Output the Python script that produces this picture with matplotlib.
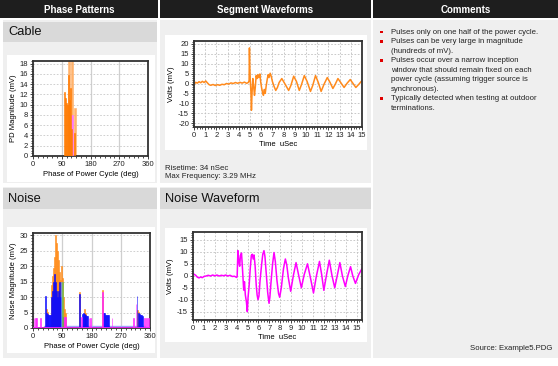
import matplotlib
matplotlib.use('Agg')
import matplotlib.pyplot as plt
from matplotlib.patches import Rectangle
from matplotlib.ticker import MultipleLocator

plt.rcParams['font.family'] = ['Liberation Sans', 'DejaVu Sans']
plt.rcParams['axes.unicode_minus'] = False

W, H = 558, 366

# column headers
headers = ['Phase Patterns', 'Segment Waveforms', 'Comments']

# Cable - phase pattern bars (phase deg, magnitude mV)
cable_light_phase = [113, 122, 131]
cable_light_mag = [18.5, 18.5, 9.3]
cable_pink_phase = [123]
cable_pink_mag = [8.0]
cable_dark_phase = [100, 103, 106, 109, 112, 115, 118, 121, 129]
cable_dark_mag = [12.5, 11.3, 10.3, 10.0, 15.7, 11.0, 13.3, 5.2, 4.5]

# Cable - segment waveform (uSec, mV)
seg_t = [0.0, 0.15, 0.3, 0.45, 0.6, 0.75, 0.9, 1.05, 1.2, 1.35, 1.5, 1.7, 1.9, 2.1,
         2.3, 2.5, 2.7, 2.9, 3.1, 3.3, 3.5, 3.7, 3.9, 4.1, 4.3, 4.5, 4.7, 4.85, 4.92,
         4.95, 4.98, 5.02, 5.08, 5.13, 5.18, 5.25, 5.32, 5.40, 5.47, 5.55, 5.62, 5.70,
         5.78, 5.88, 5.95, 6.03, 6.12, 6.2, 6.28, 6.36, 6.45, 6.55, 6.63, 6.7, 6.8,
         6.9, 7.0, 7.15, 7.3, 7.45, 7.6, 7.84, 8.1, 8.45, 8.65, 8.9, 9.15, 9.4, 9.6,
         9.85, 10.1, 10.4, 10.6, 10.85, 11.1, 11.35, 11.6, 11.9, 12.15, 12.4, 12.6,
         12.85, 13.1, 13.4, 13.65, 13.95, 14.2, 14.45, 14.7, 15.0]
seg_v = [-0.5, 0.6, 0.2, 0.9, 0.4, 1.1, 0.5, 1.3, 0.3, -0.6, -0.9, -0.5, -1.0, -0.6,
         -0.9, -0.4, -0.6, 0.0, -0.3, 0.3, 0.0, 0.5, 0.1, 0.6, 0.2, 0.7, 0.1, 0.5, 1.5,
         18.0, 9.0, 2.0, -4.0, -13.5, -5.0, 2.5, -1.0, -6.0, -2.0, 4.0, 2.5, 4.5,
         3.0, 4.8, 1.0, -2.0, -4.5, -6.0, -3.0, -5.0, -1.0, 2.5, 4.5, 3.0, 5.2,
         3.5, 1.0, -1.5, -3.5, -2.0, 0.5, 2.5, 0.0, -3.5, -1.0, 3.7, 1.0, -3.5, -0.5,
         4.0, 1.0, -4.0, -1.0, 4.0, 0.5, -4.0, -0.5, 3.0, 0.5, -2.5, -0.5,
         2.5, 0.5, -2.0, 0.0, 2.0, 0.0, -2.0, -0.5, 1.5]

# Noise - phase pattern bars
noise_orange_phase = [42, 45, 57, 60, 63, 66, 69, 72, 75, 78, 81, 84, 87, 90, 93, 96, 99,
                      144, 158, 161, 214, 323, 326]
noise_orange_mag = [6.3, 5.2, 14.0, 16.7, 19.5, 23, 30, 27.6, 25, 22, 18, 15.6, 20, 16, 10, 6, 4.8,
                    11.7, 6.3, 5.0, 12.3, 5.8, 5.3]
noise_blue_phase = [38, 42, 45, 48, 51, 54, 57, 60, 63, 66, 69, 72, 75, 78, 81, 84, 87, 90,
                    142, 151, 154, 157, 160, 163, 166, 169,
                    216, 219, 222, 225, 228, 231,
                    320, 326, 329, 332, 335, 338]
noise_blue_mag = [10.5, 5.0, 4.5, 4.3, 4.3, 4.3, 10.0, 12.0, 15.0, 17.6, 15.0, 12.0, 10.0, 12.0, 15.0, 10.0, 4.0, 3.5,
                  11.0, 4.5, 5.0, 4.5, 4.3, 4.3, 4.0, 3.8,
                  5.0, 5.0, 4.3, 4.3, 4.3, 4.3,
                  10.5, 4.8, 4.5, 4.3, 4.3, 4.0]
noise_lblue_phase = [87]
noise_lblue_mag = [15.0]
noise_green_phase = [91]
noise_green_mag = [15.0]
noise_mag_phase = [3, 7, 11, 24, 96, 99, 149, 172, 176, 214, 243, 309, 317, 344, 350, 356]
noise_mag_mag = [3.2, 3.2, 3.2, 3.2, 3.5, 3.5, 3.5, 3.3, 3.3, 11.5, 3.3, 3.3, 7.7, 3.3, 3.3, 3.3]

# Noise waveform (uSec, mV)
nw_t = [0.0, 0.1, 0.25, 0.4, 0.55, 0.7, 0.85, 1.0, 1.2, 1.4, 1.6, 1.8, 2.0, 2.2, 2.4,
        2.6, 2.8, 3.0, 3.2, 3.4, 3.6, 3.8, 4.0, 4.05, 4.12, 4.2, 4.28, 4.35, 4.45, 4.55,
        4.65, 4.72, 4.8, 4.9, 4.98, 5.05, 5.15, 5.25, 5.35, 5.44, 5.52, 5.6, 5.7, 5.8,
        5.88, 5.96, 6.05, 6.15, 6.3, 6.4, 6.51, 6.6, 6.7, 6.85, 6.97, 7.05, 7.15, 7.3,
        7.43, 7.55, 7.7, 7.85, 7.95, 8.1, 8.3, 8.47, 8.6, 8.75, 8.96, 9.2, 9.45, 9.7,
        9.94, 10.2, 10.5, 10.8, 11.05, 11.3, 11.6, 11.8, 12.0, 12.25, 12.5, 12.75, 13.0,
        13.25, 13.47, 13.7, 13.97, 14.2, 14.45, 14.65, 14.9, 15.2, 15.5]
nw_v = [1.0, 0.6, 0.2, -0.6, -0.9, -0.5, -0.8, -0.3, -0.1, 0.2, -0.1, 0.3, 0.0, 0.3, -0.1,
        0.2, 0.0, 0.3, -0.1, 0.2, -0.3, -0.2, -0.7, -0.3, 10.5, 6.0, 4.0, 8.5, 9.5, 2.0,
        -6.0, -2.5, -8.0, -11.0, -15.0, -9.0, -4.0, 3.0, 8.5, 9.0, 7.0, 8.7, 4.0, -4.0,
        -8.0, -10.0, -8.5, -2.0, 5.0, 9.0, 10.5, 8.0, 2.0, -7.0, -11.5, -9.0, -3.0, 5.0,
        9.7, 6.0, -2.0, -7.5, -9.0, -5.0, 3.0, 7.0, 4.5, -1.0, -6.5, 0.0, 5.5, 0.0,
        -5.0, 0.5, 5.0, -1.5, -7.2, -0.5, 6.0, 0.5, -6.1, 0.5, 6.5, 0.0, -5.0,
        0.5, 5.5, 0.0, -4.5, 0.0, 3.8, 0.0, -3.2, 0.5, 3.0]

comment_lines = ['Pulses only on one half of the power cycle.',
                 'Pulses can be very large in magnitude',
                 '(hundreds of mV).',
                 'Pulses occur over a narrow inception',
                 'window that should remain fixed on each',
                 'power cycle (assuming trigger source is',
                 'synchronous).',
                 'Typically detected when testing at outdoor',
                 'terminations.']
bullet_lines = [0, 1, 3, 7]

fig = plt.figure(figsize=(W / 100, H / 100), dpi=100)


def box(x0, y0, x1, y1, color):
    fig.add_artist(Rectangle((x0 / W, 1 - y1 / H), (x1 - x0) / W, (y1 - y0) / H,
                             transform=fig.transFigure, facecolor=color,
                             edgecolor='none', zorder=-1))


def txt(x, y, s, **kw):
    kw.setdefault('va', 'center')
    fig.text(x / W, 1 - y / H, s, **kw)


def new_axes(x0, y0, x1, y1):
    ax = fig.add_axes([x0 / W, 1 - y1 / H, (x1 - x0) / W, (y1 - y0) / H])
    ax.set_facecolor('white')
    for s in ax.spines.values():
        s.set_color('#333333')
        s.set_linewidth(1.3)
    ax.tick_params(labelsize=5.5, length=2, width=0.6, pad=1.5, colors='#222222')
    ax.tick_params(which='minor', length=1.2, width=0.5)
    ax.set_axisbelow(True)
    return ax


def bars(ax, x, h, w, color, z):
    # edge in the same colour so thin neighbouring bars merge into solid blocks
    ax.bar(x, h, width=w, color=color, edgecolor=color, linewidth=0.4, zorder=z)


# backgrounds
box(0, 0, 158, 18, '#1e1e1e')
box(160, 0, 371, 18, '#1e1e1e')
box(373, 0, 558, 18, '#1e1e1e')
box(3, 20, 157, 183, '#efefef')
box(160, 20, 371, 183, '#efefef')
box(373, 20, 558, 358, '#efefef')
box(3, 187, 157, 358, '#efefef')
box(160, 187, 371, 358, '#efefef')
box(3, 22, 157, 42, '#d9d9d9')
box(3, 188, 157, 209, '#d9d9d9')
box(160, 188, 371, 209, '#d9d9d9')
box(7, 55, 155, 182, 'white')
box(165, 35, 367, 150, 'white')
box(7, 227, 155, 353, 'white')
box(165, 228, 367, 342, 'white')

for cx, h in zip([79, 265.5, 465.5], headers):
    txt(cx, 10, h, ha='center', color='white', fontsize=7, fontweight='bold')

txt(8, 32, 'Cable', fontsize=9.3, color='#111111')
txt(8, 199, 'Noise', fontsize=9.3, color='#111111')
txt(165, 199, 'Noise Waveform', fontsize=9.3, color='#111111')

# Cable phase pattern
ax = new_axes(33, 61, 148, 156)
bars(ax, cable_light_phase, cable_light_mag, 6, '#ffb26b', 2)
bars(ax, cable_pink_phase, cable_pink_mag, 5, '#ff77ff', 3)
bars(ax, cable_dark_phase, cable_dark_mag, 3, '#ff7a00', 4)
ax.set_xlim(0, 360)
ax.set_ylim(0, 18.5)
ax.xaxis.set_major_locator(MultipleLocator(90))
ax.xaxis.set_minor_locator(MultipleLocator(15))
ax.yaxis.set_major_locator(MultipleLocator(2))
ax.yaxis.set_minor_locator(MultipleLocator(0.5))
ax.grid(True, axis='x', color='#cfcfcf', linewidth=0.9)
ax.grid(True, axis='y', color='#c8c8c8', linestyle=(0, (2, 2)), linewidth=0.6)
ax.set_xlabel('Phase of Power Cycle (deg)', fontsize=5.5, labelpad=2)
ax.set_ylabel('PD Magnitude (mV)', fontsize=5.5, labelpad=2)

# Segment waveform
ax = new_axes(194, 41, 362, 127)
ax.plot(seg_t, seg_v, color='#ff8a1c', linewidth=1.1)
ax.set_xlim(0, 15)
ax.set_ylim(-22, 21.5)
ax.xaxis.set_major_locator(MultipleLocator(1))
ax.xaxis.set_minor_locator(MultipleLocator(0.25))
ax.yaxis.set_major_locator(MultipleLocator(5))
ax.yaxis.set_minor_locator(MultipleLocator(1))
ax.grid(True, color='#c0c0c0', linestyle=(0, (2, 2)), linewidth=0.6)
ax.set_xlabel('Time  uSec', fontsize=5.5, labelpad=1.5)
ax.set_ylabel('Volts (mV)', fontsize=5.5, labelpad=2)

txt(165, 168, 'Risetime: 34 nSec', fontsize=5.6, color='#222222')
txt(165, 177, 'Max Frequency: 3.29 MHz', fontsize=5.6, color='#222222')

# Noise phase pattern
ax = new_axes(33, 233, 150, 328)
ax.axhspan(0, 0.6, xmin=33 / 360, xmax=345 / 360, color='#9f9fff', zorder=1)
bars(ax, noise_orange_phase, noise_orange_mag, 3, '#ff8c1a', 2)
bars(ax, noise_blue_phase, noise_blue_mag, 3, '#0a0aff', 3)
bars(ax, noise_lblue_phase, noise_lblue_mag, 2.5, '#5a8cff', 4)
bars(ax, noise_green_phase, noise_green_mag, 2, '#7ac143', 4)
bars(ax, noise_mag_phase, noise_mag_mag, 2.2, '#ff22ff', 5)
ax.axhline(0, color='#ff22ff', linewidth=1.2, zorder=6)
ax.set_xlim(0, 360)
ax.set_ylim(0, 30.7)
ax.xaxis.set_major_locator(MultipleLocator(90))
ax.xaxis.set_minor_locator(MultipleLocator(15))
ax.yaxis.set_major_locator(MultipleLocator(5))
ax.yaxis.set_minor_locator(MultipleLocator(1))
ax.grid(True, axis='x', color='#cfcfcf', linewidth=0.9)
ax.grid(True, axis='y', color='#c8c8c8', linestyle=(0, (2, 2)), linewidth=0.6)
ax.set_xlabel('Phase of Power Cycle (deg)', fontsize=5.5, labelpad=2)
ax.set_ylabel('Noise Magnitude (mV)', fontsize=5.5, labelpad=2)

# Noise waveform
ax = new_axes(193, 232, 362, 320)
ax.plot(nw_t, nw_v, color='#ff00ff', linewidth=1.1)
ax.set_xlim(0, 15.5)
ax.set_ylim(-18.5, 18.3)
ax.xaxis.set_major_locator(MultipleLocator(1))
ax.xaxis.set_minor_locator(MultipleLocator(0.25))
ax.yaxis.set_major_locator(MultipleLocator(5))
ax.yaxis.set_minor_locator(MultipleLocator(1))
ax.grid(True, color='#c0c0c0', linestyle=(0, (2, 2)), linewidth=0.6)
ax.set_xlabel('Time  uSec', fontsize=5.5, labelpad=1.5)
ax.set_ylabel('Volts (mV)', fontsize=5.5, labelpad=2)

# comments
for i, line in enumerate(comment_lines):
    y = 32.3 + 9.5 * i
    if i in bullet_lines:
        box(380, y - 1.5, 382.5, y + 1, '#e00000')
    txt(391, y, line, fontsize=5.6, color='#222222')

txt(552, 349, 'Source: Example5.PDG', ha='right', fontsize=5.6, color='#222222')

fig.savefig('out.png', dpi=100)
